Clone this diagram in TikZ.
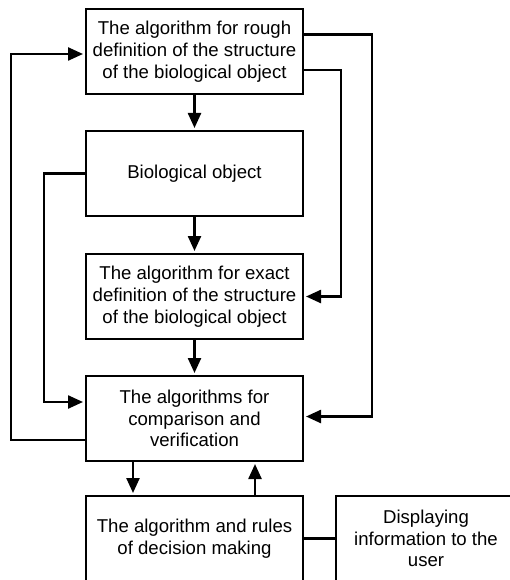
\documentclass[tikz,border=0pt]{standalone}
\usepackage{fontspec}
\setmainfont{Liberation Sans}
\usetikzlibrary{positioning,arrows.meta}

\begin{document}
\begin{tikzpicture}[
            block/.style = {draw, line width = 2.4pt, minimum width = 217pt, minimum height = 85pt,
                            align = center, inner sep = 2pt, outer sep = 0pt,
                            font = \fontsize{18.6pt}{21.8pt}\selectfont},
            arr/.style = {line width = 2.4pt, -{Triangle[length = 15pt, width = 13pt]}, shorten > = 3pt},
            link/.style = {line width = 2.4pt},
            node distance = 37pt
            ]
            \useasboundingbox (0,0) rectangle (510pt,-580pt);
            \node[block] (rough) at (194.5pt,-51.5pt) {The algorithm for rough\\definition of the structure\\of the biological object};
            \node[block, below = of rough] (bio) {Biological object};
            \node[block, below = 38pt of bio] (exact) {The algorithm for exact\\definition of the structure\\of the biological object};
            \node[block, below = of exact] (compare) {The algorithms for\\comparison and\\verification};
            \node[block, below = 35pt of compare] (decide) {The algorithm and rules\\of decision making};
            \node[block, right = 33pt of decide, minimum width = 180pt] (display) {Displaying\\information to the\\user};

            \draw[arr] (rough) -- (bio);
            \draw[arr] (bio) -- (exact);
            \draw[arr] (exact) -- (compare);
            \draw[arr] ([yshift = 17pt]rough.east) -- ++(69pt,0) |- ([yshift = 2pt]compare.east);
            \draw[arr] ([yshift = -18.5pt]rough.east) -- ++(38pt,0) |- (exact.east);
            \draw[arr] (bio.west) -- ++(-42pt,0) |- ([yshift = 16.5pt]compare.west);
            \draw[arr] ([yshift = -21.5pt]compare.west) -- ++(-75pt,0) |- ([yshift = -2.5pt]rough.west);
            \draw[arr] ([xshift = -61.5pt]compare.south) -- ([xshift = -61.5pt]decide.north);
            \draw[arr] ([xshift = 60.5pt]decide.north) -- ([xshift = 60.5pt]compare.south);
            \draw[link] (decide.east) -- (display.west);
          \end{tikzpicture}
\end{document}
